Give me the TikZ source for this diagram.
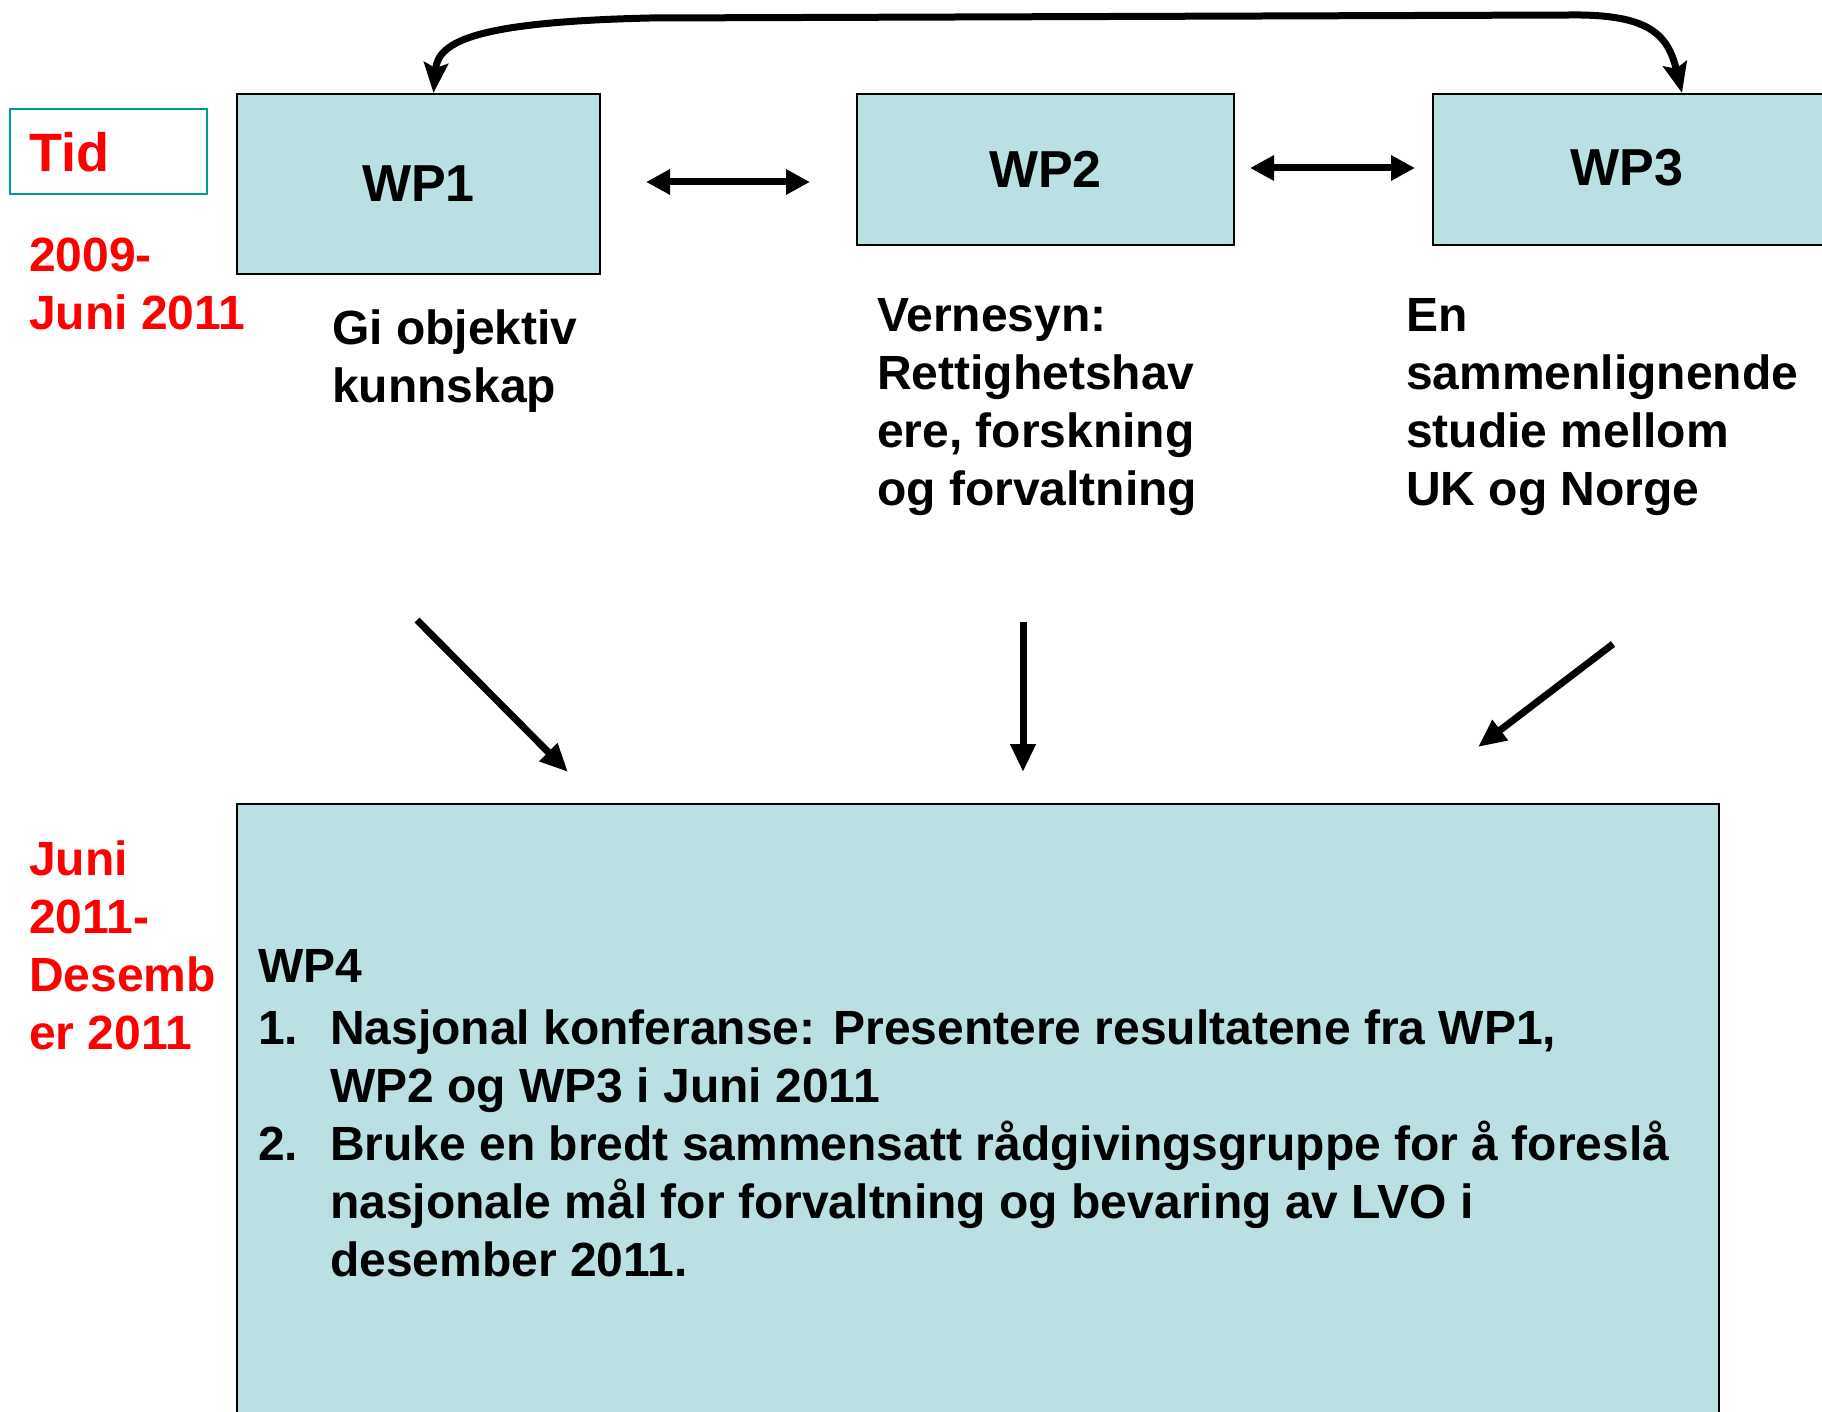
\documentclass[tikz,border=0pt]{standalone}
\usepackage{fontspec}
\setmainfont{Liberation Sans}
\usetikzlibrary{arrows.meta}
\definecolor{boxfill}{RGB}{186,224,227}
\definecolor{tidteal}{RGB}{0,153,153}
\definecolor{tidred}{RGB}{255,0,0}
\begin{document}
\begin{tikzpicture}[x=1pt,y=-1pt,
  wpbox/.style={draw=black, line width=2pt, fill=boxfill, inner sep=0pt, anchor=north west},
  wplabel/.style={font=\bfseries\fontsize{52}{60}\selectfont, inner sep=0pt},
  conn/.style={line width=7pt, -{Triangle[length=28pt,width=24pt]}},
  dconn/.style={line width=7pt, {Triangle[length=24pt,width=24pt]}-{Triangle[length=24pt,width=24pt]}},
  curveconn/.style={line width=7pt, {Stealth[length=30pt,width=24pt,inset=5pt]}-{Stealth[length=30pt,width=24pt,inset=5pt]}},
  redtxt/.style={text=tidred, font=\bfseries\fontsize{48}{58}\selectfont, anchor=base west, inner sep=0pt, align=left},
  blktxt/.style={font=\bfseries\fontsize{48}{58}\selectfont, anchor=base west, inner sep=0pt, align=left}]
\useasboundingbox (0,0) rectangle (1822,1412);
% time box
\node[draw=tidteal, line width=2pt, minimum width=197pt, minimum height=85pt, inner sep=0pt, anchor=north west] (tid) at (9,108) {};
\node[text=tidred, font=\bfseries\fontsize{54}{60}\selectfont, anchor=base west, inner sep=0pt] (tidtxt) at (29,172) {Tid};
\node[redtxt] (t1) at (29,330) {2009-\\Juni 2011};
\node[redtxt] (t2) at (29,1049) {Juni\\2011-\\Desemb\\er 2011};
% WP boxes
\node[wpbox, minimum width=363pt, minimum height=180pt] (wp1) at (236,93) {};
\node[wpbox, minimum width=377pt, minimum height=151pt] (wp2) at (856,93) {};
\node[wpbox, minimum width=394pt, minimum height=151pt] (wp3) at (1432,93) {};
\node[wplabel] (wp1l) at (wp1.center) {WP1};
\node[wplabel] (wp2l) at (wp2.center) {WP2};
\node[wplabel] (wp3l) at (1627,168) {WP3};
% descriptions
\node[blktxt] (d1) at (332,402) {Gi objektiv\\kunnskap};
\node[blktxt] (d2) at (877,505) {Vernesyn:\\Rettighetshav\\ere, forskning\\og forvaltning};
\node[blktxt] (d3) at (1406,505) {En\\sammenlignende\\studie mellom\\UK og Norge};
% WP4
\node[wpbox, line width=1.6pt, minimum width=1482pt, minimum height=640pt] (wp4) at (236,803) {};
\node[blktxt] (wp4txt) at (258,1276) {WP4\\[4pt]
\makebox[72pt][l]{1.}Nasjonal konferanse: Presentere resultatene fra WP1,\\
\hspace*{72pt}WP2 og WP3 i Juni 2011\\
\makebox[72pt][l]{2.}Bruke en bredt sammensatt rådgivingsgruppe for å foreslå\\
\hspace*{72pt}nasjonale mål for forvaltning og bevaring av LVO i\\
\hspace*{72pt}desember 2011.};
% connectors
\coordinate (a12s) at (646,182);
\coordinate (a12e) at (810,182);
\coordinate (a23s) at (1250,168);
\coordinate (a23e) at (1415,168);
\draw[dconn] (a12s) -- (a12e);
\draw[dconn] (a23s) -- (a23e);
\draw[curveconn] ([xshift=15pt]wp1.north) .. controls (438,40) and (480,22) .. (650,18) -- (1570,15) .. controls (1650,14) and (1668,35) .. ([xshift=52pt]wp3.north);
\coordinate (s1) at (417,620);
\coordinate (e1) at (568,772);
\coordinate (s2) at (1023,622);
\coordinate (e2) at (1023,772);
\coordinate (s3) at (1613,644);
\coordinate (e3) at (1478,747);
\draw[conn] (s1) -- (e1);
\draw[conn] (s2) -- (e2);
\draw[conn] (s3) -- (e3);
\end{tikzpicture}
\end{document}
